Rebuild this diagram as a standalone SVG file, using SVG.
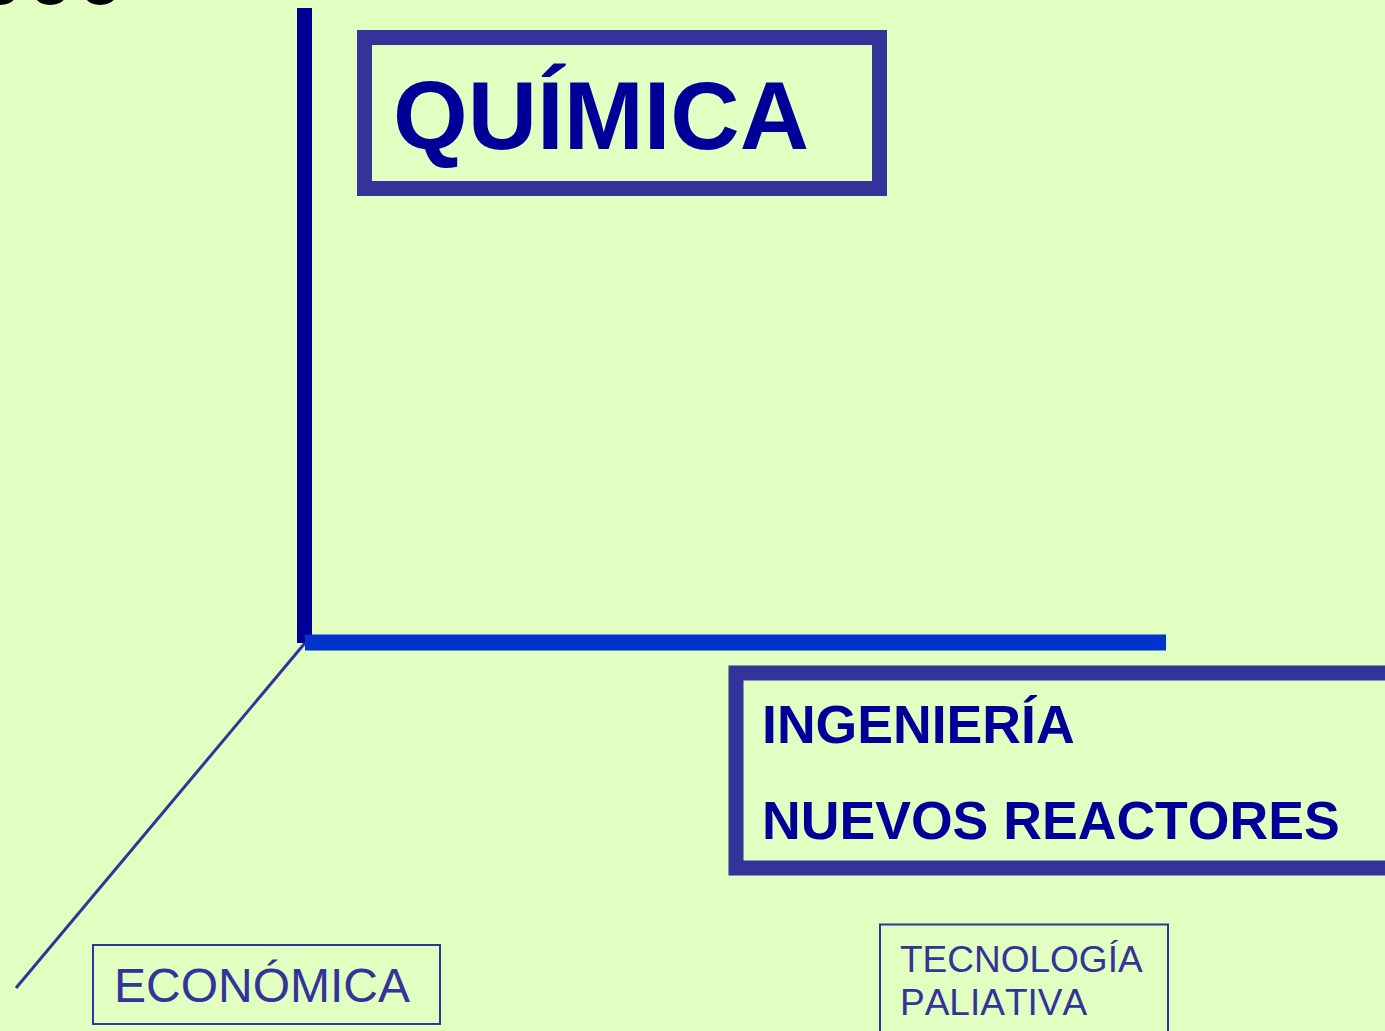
<svg xmlns="http://www.w3.org/2000/svg" width="1385" height="1031" viewBox="0 0 1385 1031">
<style>
text{font-kerning:none}
.frame{fill:none;stroke:#333399}
.bold{font-family:"Liberation Sans",Arial,sans-serif;font-weight:bold;fill:#000099}
.reg{font-family:"Liberation Sans",Arial,sans-serif;fill:#333399}
</style>
<rect width="1385" height="1031" fill="#E0FFC0"/>
<text x="-22" y="4" font-family="Liberation Sans, Arial, sans-serif" font-size="80" letter-spacing="5.5" fill="#000000">ooo</text>
<g id="connectors">
<line x1="304.5" y1="8" x2="304.5" y2="643" stroke="#000099" stroke-width="15"/>
<line x1="305" y1="642.5" x2="1166" y2="642.5" stroke="#0033CC" stroke-width="16"/>
<line x1="305" y1="643" x2="16" y2="988" stroke="#333399" stroke-width="3"/>
</g>
<g id="quimica">
<rect class="frame" x="364.5" y="37.5" width="515" height="151" stroke-width="15"/>
<text class="bold" x="393" y="149" font-size="96">QUÍMICA</text>
</g>
<g id="ingenieria">
<rect class="frame" x="736" y="673" width="670" height="195" stroke-width="15"/>
<text class="bold" x="762" y="743" font-size="53.6">INGENIERÍA</text>
<text class="bold" x="762" y="839" font-size="53.6">NUEVOS REACTORES</text>
</g>
<g id="economica">
<rect class="frame" x="93" y="945" width="347" height="79" stroke-width="2"/>
<text class="reg" x="114" y="1002" font-size="48">ECONÓMICA</text>
</g>
<g id="tecnologia">
<rect class="frame" x="880" y="924.5" width="288" height="120" stroke-width="2"/>
<text class="reg" x="900" y="972" font-size="37">TECNOLOGÍA</text>
<text class="reg" x="900" y="1015" font-size="37">PALIATIVA</text>
</g>
</svg>
